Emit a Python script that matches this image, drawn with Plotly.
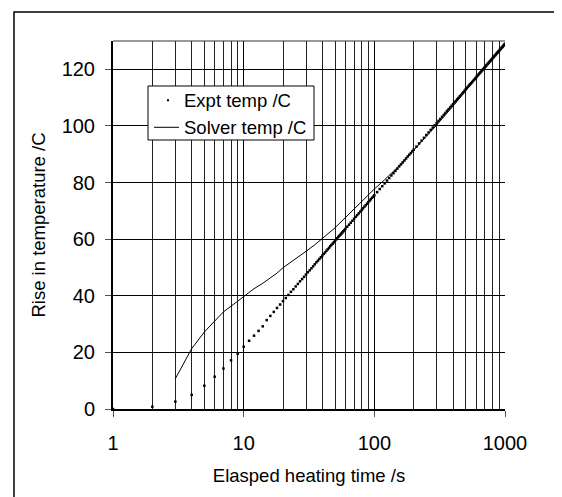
import plotly.graph_objects as go

# ---------------- data ----------------
# Experimental temperature rise, sampled every second to 60 s, then coarser
expt_time = (list(range(1, 61)) + list(range(62, 101, 2)) +
             list(range(105, 201, 5)) + list(range(210, 1001, 10)))
expt_temp = [
    0.0, 0.8, 2.6, 5.0, 8.2, 11.4, 14.3, 17.2, 19.5, 22.0,
    24.1, 25.9, 27.6, 29.2, 31.4, 32.9, 34.3, 35.7, 36.9, 38.1,
    39.2, 40.3, 41.4, 42.3, 43.3, 44.2, 45.1, 45.9, 46.7, 47.5,
    48.3, 49.0, 49.7, 50.4, 51.1, 51.8, 52.4, 53.0, 53.6, 54.2,
    54.8, 55.3, 55.9, 56.4, 56.9, 57.5, 58.0, 58.4, 58.9, 59.4,
    59.9, 60.3, 60.8, 61.2, 61.6, 62.0, 62.4, 62.8, 63.2, 63.6,
    # 62..100 step 2
    64.4, 65.1, 65.8, 66.5, 67.2, 67.9, 68.5, 69.1, 69.7, 70.3,
    70.9, 71.5, 72.0, 72.5, 73.1, 73.6, 74.1, 74.6, 75.0, 75.5,
    # 105..200 step 5
    76.6, 77.7, 78.7, 79.7, 80.7, 81.6, 82.5, 83.3, 84.1, 84.9,
    85.7, 86.4, 87.1, 87.8, 88.5, 89.2, 89.8, 90.4, 91.0, 91.6,
    # 210..1000 step 10
    92.7, 93.8, 94.8, 95.8, 96.8, 97.7, 98.6, 99.4, 100.2, 101.0,
    101.8, 102.5, 103.2, 103.9, 104.6, 105.3, 105.9, 106.5, 107.1, 107.7,
    108.3, 108.8, 109.4, 109.9, 110.4, 110.9, 111.4, 111.9, 112.4, 112.9,
    113.4, 113.8, 114.3, 114.7, 115.1, 115.5, 115.9, 116.3, 116.7, 117.1,
    117.5, 117.9, 118.3, 118.6, 119.0, 119.3, 119.7, 120.0, 120.4, 120.7,
    121.0, 121.4, 121.7, 122.0, 122.3, 122.6, 122.9, 123.2, 123.5, 123.8,
    124.1, 124.4, 124.7, 124.9, 125.2, 125.5, 125.8, 126.0, 126.3, 126.5,
    126.8, 127.1, 127.3, 127.6, 127.8, 128.0, 128.3, 128.5, 128.8, 129.0,
]

# Solver (model) temperature rise
solver_time = [3, 4, 5, 6, 7, 8, 9, 10, 12, 14, 16, 18, 20, 25, 30, 35, 40,
               45, 50, 60, 70, 80, 90, 100, 120, 150, 200, 250, 300, 400,
               500, 600, 700, 800, 900, 1000]
solver_temp = [10.7, 21.3, 27.2, 31.0, 34.3, 36.3, 38.2, 39.8, 42.5, 44.4,
               46.2, 48.0, 49.9, 53.0, 55.7, 58.0, 60.2, 62.2, 64.0, 67.6,
               70.7, 73.4, 75.7, 77.7, 81.0, 85.3, 91.4, 96.2, 100.3, 107.0,
               112.4, 117.0, 120.8, 124.0, 126.8, 129.2]

series_names = ["Expt temp /C", "Solver temp /C"]
x_tickvals = [1, 10, 100, 1000]
x_ticktext = ["1", "10", "100", "1000"]
y_tickvals = [0, 20, 40, 60, 80, 100, 120]

# ---------------- figure ----------------
FONT = "Liberation Sans, Arial, Helvetica, sans-serif"
W, H = 562, 497
L, R, T, B = 105, 65, 33, 96
pw, ph = W - L - R, H - T - B


def px(xpix):
    return (xpix - L) / pw


def py(ypix):
    return (H - B - ypix) / ph


fig = go.Figure()
fig.add_trace(go.Scatter(
    x=expt_time, y=expt_temp, mode="markers", name=series_names[0],
    marker=dict(symbol="square", size=2.5, color="black", line=dict(width=0)),
    showlegend=False,
))
fig.add_trace(go.Scatter(
    x=solver_time, y=solver_temp, mode="lines", name=series_names[1],
    line=dict(color="black", width=1),
    showlegend=False,
))

# legend box drawn by hand (matches the reference's compact box)
leg_l, leg_r, leg_t, leg_b = 140, 306, 78, 132
row1, row2 = 92.3, 119.3
shapes = [
    # outer chart border
    dict(type="rect", xref="paper", yref="paper", layer="below",
         x0=px(6), x1=px(558), y0=py(494), y1=py(4),
         line=dict(color="black", width=1.5), fillcolor="rgba(0,0,0,0)"),
    # top edge of the plot area
    dict(type="line", xref="paper", yref="paper", layer="above",
         x0=0, x1=1, y0=1, y1=1, line=dict(color="#333333", width=1)),
    # legend
    dict(type="rect", xref="paper", yref="paper", layer="above",
         x0=px(leg_l), x1=px(leg_r), y0=py(leg_b), y1=py(leg_t),
         line=dict(color="black", width=1), fillcolor="white"),
    dict(type="rect", xref="paper", yref="paper", layer="above",
         x0=px(159), x1=px(161), y0=py(row1 + 1), y1=py(row1 - 1),
         line=dict(width=0), fillcolor="black"),
    dict(type="line", xref="paper", yref="paper", layer="above",
         x0=px(146), x1=px(171), y0=py(row2), y1=py(row2),
         line=dict(color="black", width=1)),
]
annotations = [
    dict(xref="paper", yref="paper", x=px(173.5), y=py(row1),
         xanchor="left", yanchor="middle", showarrow=False,
         text=series_names[0], font=dict(family=FONT, size=18.5, color="black")),
    dict(xref="paper", yref="paper", x=px(173.5), y=py(row2),
         xanchor="left", yanchor="middle", showarrow=False,
         text=series_names[1], font=dict(family=FONT, size=18.5, color="black")),
]

fig.update_layout(
    width=W, height=H,
    margin=dict(l=L, r=R, t=T, b=B, pad=0),
    paper_bgcolor="white", plot_bgcolor="white",
    font=dict(family=FONT, size=20, color="black"),
    showlegend=False,
    shapes=shapes,
    annotations=annotations,
)

fig.update_xaxes(
    type="log", range=[0, 3],
    tickvals=x_tickvals, ticktext=x_ticktext,
    showgrid=True, gridcolor="black", gridwidth=1,
    minor=dict(dtick="D1", showgrid=True, gridcolor="#222222", gridwidth=1,
               ticks=""),
    ticks="outside", ticklen=6, tickcolor="#555555", tickwidth=1,
    ticklabelstandoff=9,
    showline=True, linecolor="black", linewidth=2, mirror=False,
    zeroline=False,
    tickfont=dict(size=20),
    title=dict(text="Elasped heating time /s", font=dict(size=18.5), standoff=16),
)
fig.update_yaxes(
    range=[0, 130], tickvals=y_tickvals,
    showgrid=True, gridcolor="black", gridwidth=1,
    ticks="outside", ticklen=6, tickcolor="#555555", tickwidth=1,
    ticklabelstandoff=6,
    showline=True, linecolor="black", linewidth=2, mirror=False,
    zeroline=False,
    tickfont=dict(size=20),
    title=dict(text="Rise in temperature /C", font=dict(size=18.5), standoff=11),
)

fig.write_html("out.html")
